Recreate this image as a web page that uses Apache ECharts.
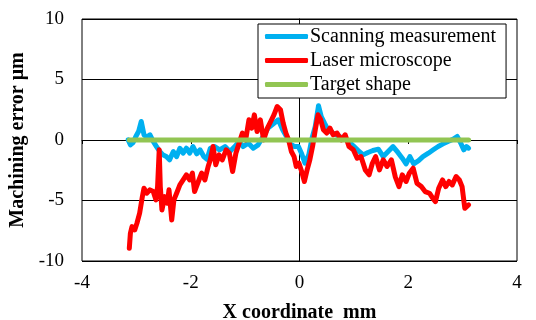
<!DOCTYPE html>
<html>
<head>
<meta charset="utf-8">
<script src="https://cdn.jsdelivr.net/npm/echarts@6/dist/echarts.min.js"></script>
<style>
  html, body { margin: 0; padding: 0; background: #fff; }
  #chart { width: 536px; height: 320px; }
</style>
</head>
<body>
<div id="chart"></div>
<script>
// values: [x mm, error um]
const scanningData = [
  [-3.15, 0.01], [-3.11, -0.40], [-3.06, -0.21], [-3.01, 0.29], [-2.96, 0.70], [-2.91, 1.53],
  [-2.86, 0.43], [-2.81, 0.23], [-2.75, 0.43], [-2.69, -0.12], [-2.63, -0.54], [-2.57, -0.95],
  [-2.51, -1.23], [-2.45, -1.37], [-2.39, -1.64], [-2.32, -0.95], [-2.26, -1.37], [-2.20, -0.68],
  [-2.14, -1.09], [-2.08, -0.68], [-2.02, -1.09], [-1.96, -0.54], [-1.89, -1.14], [-1.83, -0.81],
  [-1.76, -1.37], [-1.70, -1.59], [-1.64, -0.68], [-1.56, -0.54], [-1.47, -0.81], [-1.37, -0.54],
  [-1.28, -0.95], [-1.19, -0.54], [-1.11, -0.12], [-1.04, -0.54], [-0.94, -0.26], [-0.85, -0.68],
  [-0.76, -0.40], [-0.67, 0.29], [-0.58, 0.98], [-0.48, 1.34], [-0.39, 1.67], [-0.31, 0.84],
  [-0.24, 0.29], [-0.17, -0.32], [-0.09, -0.54], [-0.02, -0.54], [0.04, -1.14], [0.10, -1.92],
  [0.17, -1.23], [0.23, 0.15], [0.29, 1.12], [0.35, 2.83], [0.40, 1.94], [0.46, 1.39],
  [0.53, 0.79], [0.62, 0.57], [0.71, 0.34], [0.80, 0.15], [0.90, -0.12], [0.99, -0.48],
  [1.08, -0.87], [1.17, -1.23], [1.26, -1.03], [1.35, -0.87], [1.45, -0.76], [1.54, -1.37],
  [1.63, -0.95], [1.72, -0.54], [1.81, -1.03], [1.89, -1.50], [1.96, -1.97], [2.03, -1.37],
  [2.10, -1.97], [2.19, -1.70], [2.27, -1.37], [2.37, -1.09], [2.46, -0.81], [2.55, -0.54],
  [2.64, -0.32], [2.73, -0.12], [2.83, 0.07], [2.90, 0.29], [2.96, -0.21], [3.02, -0.81],
  [3.07, -0.54], [3.11, -0.68]
];

const laserData = [
  [-3.13, -8.95], [-3.11, -7.71], [-3.08, -7.16], [-3.03, -7.43], [-2.99, -6.88], [-2.94, -6.05],
  [-2.89, -4.68], [-2.86, -3.99], [-2.81, -4.40], [-2.75, -4.12], [-2.69, -4.26], [-2.64, -4.95],
  [-2.61, -3.85], [-2.58, -0.81], [-2.56, -3.85], [-2.53, -5.78], [-2.48, -4.68], [-2.43, -5.23],
  [-2.40, -4.12], [-2.35, -6.61], [-2.31, -4.95], [-2.26, -4.40], [-2.20, -3.71], [-2.14, -3.30],
  [-2.08, -2.88], [-2.02, -3.30], [-1.97, -2.74], [-1.93, -4.26], [-1.86, -3.43], [-1.80, -2.74],
  [-1.74, -3.30], [-1.68, -2.19], [-1.64, -1.64], [-1.59, -0.54], [-1.54, -2.05], [-1.48, -1.23],
  [-1.42, -1.64], [-1.35, -0.81], [-1.29, -1.09], [-1.23, -2.61], [-1.17, -1.09], [-1.11, -0.26],
  [-1.05, 0.57], [-0.99, 0.01], [-0.93, 1.67], [-0.88, 0.98], [-0.83, 2.08], [-0.78, 0.70],
  [-0.72, 1.67], [-0.66, 0.01], [-0.59, 0.98], [-0.53, 1.53], [-0.47, 2.08], [-0.41, 2.77],
  [-0.35, 2.50], [-0.30, 1.39], [-0.25, 0.57], [-0.20, 0.01], [-0.15, -0.95], [-0.10, -1.37],
  [-0.06, -2.19], [-0.01, -1.92], [0.04, -2.61], [0.09, -3.43], [0.14, -2.47], [0.19, -1.64],
  [0.24, -0.54], [0.29, 0.84], [0.34, 2.08], [0.39, 1.67], [0.44, 0.84], [0.50, 0.57],
  [0.56, 0.98], [0.62, 0.43], [0.69, 0.57], [0.77, 0.01], [0.84, 0.43], [0.91, -0.54],
  [0.99, -0.81], [1.06, -1.50], [1.13, -1.37], [1.21, -2.47], [1.28, -2.88], [1.34, -1.92],
  [1.40, -1.37], [1.47, -2.47], [1.54, -1.64], [1.61, -2.19], [1.69, -1.64], [1.76, -3.02],
  [1.83, -3.85], [1.89, -2.88], [1.96, -3.43], [2.02, -2.74], [2.09, -2.33], [2.16, -3.57],
  [2.24, -3.85], [2.31, -4.26], [2.39, -4.40], [2.45, -4.81], [2.50, -5.09], [2.56, -3.99],
  [2.63, -3.30], [2.69, -3.85], [2.75, -3.43], [2.81, -3.71], [2.88, -3.02], [2.94, -3.30],
  [2.99, -3.85], [3.04, -5.64], [3.07, -5.78], [3.11, -5.37]
];

const targetData = [[-3.13, 0], [3.11, 0]];

const seriesNames = ['Scanning measurement', 'Laser microscope', 'Target shape'];
const seriesColors = ['#00b0f0', '#ff0000', '#92c553'];

const font = 'Liberation Serif';
const chart = echarts.init(document.getElementById('chart'));

const lineSeries = (idx, data) => ({
  name: seriesNames[idx],
  type: 'line',
  data: data,
  showSymbol: false,
  symbol: 'none',
  animation: false,
  lineStyle: { color: seriesColors[idx], width: 5, join: 'round', cap: 'round' },
  itemStyle: { color: seriesColors[idx] }
});

chart.setOption({
  backgroundColor: '#fff',
  animation: false,
  textStyle: { fontFamily: font, color: '#000' },
  grid: {
    left: 82, right: 19, top: 19, bottom: 59,
    outerBoundsMode: 'none',
    containLabel: false,
    show: true, borderColor: '#000', borderWidth: 1, backgroundColor: 'transparent'
  },
  legend: {
    orient: 'vertical',
    left: 258, top: 24,
    padding: [2, 10, 3, 7],
    itemGap: 3,
    itemWidth: 43,
    itemHeight: 5,
    icon: 'roundRect',
    borderColor: '#000', borderWidth: 1,
    backgroundColor: '#fff',
    data: seriesNames,
    textStyle: { fontFamily: font, fontSize: 20, color: '#000', lineHeight: 21, padding: [0, 0, 0, -3] }
  },
  xAxis: [
    {
      type: 'value', min: -4, max: 4, interval: 2,
      name: 'X coordinate  mm', nameLocation: 'middle', nameGap: 42,
      nameTextStyle: { fontFamily: font, fontSize: 20, fontWeight: 'bold', color: '#000' },
      axisLine: { show: false }, axisTick: { show: false }, splitLine: { show: false },
      axisLabel: { fontFamily: font, fontSize: 19, color: '#000', margin: 13 }
    },
    {
      type: 'value', min: -4, max: 4, interval: 2,
      axisLine: { show: true, onZero: true, onZeroAxisIndex: 0, lineStyle: { color: '#000', width: 1 } },
      axisTick: { show: true, inside: true, length: 4, lineStyle: { color: '#000' } },
      axisLabel: { show: false }, splitLine: { show: false }
    }
  ],
  yAxis: [
    {
      type: 'value', min: -10, max: 10, interval: 5,
      name: 'Machining error μm', nameLocation: 'middle', nameGap: 53,
      nameTextStyle: { fontFamily: font, fontSize: 20, fontWeight: 'bold', color: '#000' },
      axisLine: { show: false }, axisTick: { show: false },
      splitLine: { show: true, lineStyle: { color: '#000', width: 1 } },
      axisLabel: { fontFamily: font, fontSize: 19, color: '#000', margin: 18 }
    },
    {
      type: 'value', min: -10, max: 10, interval: 5,
      axisLine: { show: true, onZero: true, onZeroAxisIndex: 0, lineStyle: { color: '#000', width: 1 } },
      axisTick: { show: false }, axisLabel: { show: false }, splitLine: { show: false }
    }
  ],
  series: [
    lineSeries(0, scanningData),
    lineSeries(1, laserData),
    lineSeries(2, targetData)
  ]
});
</script>
</body>
</html>
